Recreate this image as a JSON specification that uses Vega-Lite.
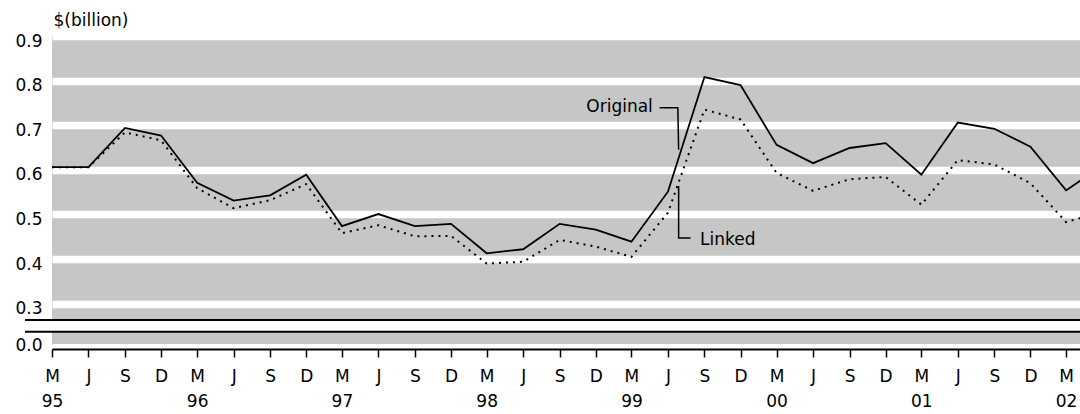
{
  "$schema": "https://vega.github.io/schema/vega-lite/v6.json",
  "width": 1028,
  "height": 308,
  "autosize": {"type": "none"},
  "padding": {"left": 52, "top": 36, "right": 0, "bottom": 70},
  "background": "white",
  "view": {"fill": "#c6c6c6", "stroke": null},
  "config": {
    "font": "DejaVu Sans",
    "axis": {"labelFont": "DejaVu Sans", "titleFont": "DejaVu Sans", "labelColor": "black", "titleColor": "black"}
  },
  "datasets": {
    "series": [
      {"date": "1995-03-01", "series": "Original", "v": 0.606},
      {"date": "1995-06-01", "series": "Original", "v": 0.606},
      {"date": "1995-09-01", "series": "Original", "v": 0.694},
      {"date": "1995-12-01", "series": "Original", "v": 0.677},
      {"date": "1996-03-01", "series": "Original", "v": 0.571},
      {"date": "1996-06-01", "series": "Original", "v": 0.531},
      {"date": "1996-09-01", "series": "Original", "v": 0.543},
      {"date": "1996-12-01", "series": "Original", "v": 0.589},
      {"date": "1997-03-01", "series": "Original", "v": 0.474},
      {"date": "1997-06-01", "series": "Original", "v": 0.501},
      {"date": "1997-09-01", "series": "Original", "v": 0.474},
      {"date": "1997-12-01", "series": "Original", "v": 0.479},
      {"date": "1998-03-01", "series": "Original", "v": 0.413},
      {"date": "1998-06-01", "series": "Original", "v": 0.422},
      {"date": "1998-09-01", "series": "Original", "v": 0.479},
      {"date": "1998-12-01", "series": "Original", "v": 0.466},
      {"date": "1999-03-01", "series": "Original", "v": 0.439},
      {"date": "1999-06-01", "series": "Original", "v": 0.551},
      {"date": "1999-09-01", "series": "Original", "v": 0.808},
      {"date": "1999-12-01", "series": "Original", "v": 0.790},
      {"date": "2000-03-01", "series": "Original", "v": 0.656},
      {"date": "2000-06-01", "series": "Original", "v": 0.615},
      {"date": "2000-09-01", "series": "Original", "v": 0.649},
      {"date": "2000-12-01", "series": "Original", "v": 0.660},
      {"date": "2001-03-01", "series": "Original", "v": 0.589},
      {"date": "2001-06-01", "series": "Original", "v": 0.706},
      {"date": "2001-09-01", "series": "Original", "v": 0.692},
      {"date": "2001-12-01", "series": "Original", "v": 0.652},
      {"date": "2002-03-01", "series": "Original", "v": 0.554},
      {"date": "2002-06-01", "series": "Original", "v": 0.610},
      {"date": "1995-03-01", "series": "Linked", "v": 0.606},
      {"date": "1995-06-01", "series": "Linked", "v": 0.606},
      {"date": "1995-09-01", "series": "Linked", "v": 0.684},
      {"date": "1995-12-01", "series": "Linked", "v": 0.666},
      {"date": "1996-03-01", "series": "Linked", "v": 0.559},
      {"date": "1996-06-01", "series": "Linked", "v": 0.514},
      {"date": "1996-09-01", "series": "Linked", "v": 0.532},
      {"date": "1996-12-01", "series": "Linked", "v": 0.568},
      {"date": "1997-03-01", "series": "Linked", "v": 0.458},
      {"date": "1997-06-01", "series": "Linked", "v": 0.476},
      {"date": "1997-09-01", "series": "Linked", "v": 0.451},
      {"date": "1997-12-01", "series": "Linked", "v": 0.452},
      {"date": "1998-03-01", "series": "Linked", "v": 0.390},
      {"date": "1998-06-01", "series": "Linked", "v": 0.394},
      {"date": "1998-09-01", "series": "Linked", "v": 0.443},
      {"date": "1998-12-01", "series": "Linked", "v": 0.428},
      {"date": "1999-03-01", "series": "Linked", "v": 0.405},
      {"date": "1999-06-01", "series": "Linked", "v": 0.504},
      {"date": "1999-09-01", "series": "Linked", "v": 0.735},
      {"date": "1999-12-01", "series": "Linked", "v": 0.713},
      {"date": "2000-03-01", "series": "Linked", "v": 0.593},
      {"date": "2000-06-01", "series": "Linked", "v": 0.553},
      {"date": "2000-09-01", "series": "Linked", "v": 0.579},
      {"date": "2000-12-01", "series": "Linked", "v": 0.584},
      {"date": "2001-03-01", "series": "Linked", "v": 0.522},
      {"date": "2001-06-01", "series": "Linked", "v": 0.622},
      {"date": "2001-09-01", "series": "Linked", "v": 0.612},
      {"date": "2001-12-01", "series": "Linked", "v": 0.570},
      {"date": "2002-03-01", "series": "Linked", "v": 0.483},
      {"date": "2002-06-01", "series": "Linked", "v": 0.506}
    ]
  },
  "layer": [
    {
      "data": {"name": "series"},
      "transform": [{"filter": "datum.series === 'Original'"}],
      "mark": {"type": "line", "color": "black", "strokeWidth": 1.8},
      "encoding": {
        "x": {
          "field": "date",
          "type": "temporal",
          "scale": {
            "type": "utc",
            "domain": [
              {"year": 1995, "month": 3, "date": 1, "utc": true},
              {"year": 2002, "month": 4, "date": 5, "utc": true}
            ]
          },
          "axis": {
            "orient": "bottom",
            "offset": 5,
            "title": null,
            "grid": false,
            "tickCount": 60,
            "values": [
              {"year": 1995, "month": 3, "date": 1, "utc": true},
              {"year": 1995, "month": 6, "date": 1, "utc": true},
              {"year": 1995, "month": 9, "date": 1, "utc": true},
              {"year": 1995, "month": 12, "date": 1, "utc": true},
              {"year": 1996, "month": 3, "date": 1, "utc": true},
              {"year": 1996, "month": 6, "date": 1, "utc": true},
              {"year": 1996, "month": 9, "date": 1, "utc": true},
              {"year": 1996, "month": 12, "date": 1, "utc": true},
              {"year": 1997, "month": 3, "date": 1, "utc": true},
              {"year": 1997, "month": 6, "date": 1, "utc": true},
              {"year": 1997, "month": 9, "date": 1, "utc": true},
              {"year": 1997, "month": 12, "date": 1, "utc": true},
              {"year": 1998, "month": 3, "date": 1, "utc": true},
              {"year": 1998, "month": 6, "date": 1, "utc": true},
              {"year": 1998, "month": 9, "date": 1, "utc": true},
              {"year": 1998, "month": 12, "date": 1, "utc": true},
              {"year": 1999, "month": 3, "date": 1, "utc": true},
              {"year": 1999, "month": 6, "date": 1, "utc": true},
              {"year": 1999, "month": 9, "date": 1, "utc": true},
              {"year": 1999, "month": 12, "date": 1, "utc": true},
              {"year": 2000, "month": 3, "date": 1, "utc": true},
              {"year": 2000, "month": 6, "date": 1, "utc": true},
              {"year": 2000, "month": 9, "date": 1, "utc": true},
              {"year": 2000, "month": 12, "date": 1, "utc": true},
              {"year": 2001, "month": 3, "date": 1, "utc": true},
              {"year": 2001, "month": 6, "date": 1, "utc": true},
              {"year": 2001, "month": 9, "date": 1, "utc": true},
              {"year": 2001, "month": 12, "date": 1, "utc": true},
              {"year": 2002, "month": 3, "date": 1, "utc": true}
            ],
            "labelExpr": "[slice(utcFormat(datum.value, '%b'), 0, 1), utcFormat(datum.value, '%m') === '03' ? utcFormat(datum.value, '%y') : '']",
            "labelFontSize": 17,
            "labelPadding": 11,
            "labelLineHeight": 25,
            "labelAlign": "center",
            "labelBaseline": "top",
            "labelOverlap": false,
            "labelBound": false,
            "labelFlush": false,
            "domainColor": "black",
            "domainWidth": 2,
            "tickColor": "black",
            "tickWidth": 1.5,
            "tickSize": 8
          }
        },
        "y": {
          "field": "v",
          "type": "quantitative",
          "scale": {"domain": [0, 0.3, 0.9], "range": [304, 267.7, 0], "nice": false, "zero": false},
          "axis": {
            "values": [0, 0.3, 0.4, 0.5, 0.6, 0.7, 0.8, 0.9],
            "tickCount": 20,
            "format": ".1f",
            "labelFontSize": 17,
            "labelPadding": 10,
            "ticks": false,
            "tickSize": 0,
            "domain": false,
            "labelOffset": 5,
            "labelBaseline": "middle",
            "grid": true,
            "gridColor": {"condition": {"test": "datum.value === 0", "value": "transparent"}, "value": "white"},
            "gridWidth": 7.5,
            "gridOpacity": 1,
            "title": "$(billion)",
            "titleAngle": 0,
            "titleAlign": "left",
            "titleBaseline": "middle",
            "titleX": 1,
            "titleY": -16,
            "titleFontSize": 17,
            "titleFontWeight": "normal"
          }
        }
      }
    },
    {
      "data": {"name": "series"},
      "transform": [{"filter": "datum.series === 'Linked'"}],
      "mark": {"type": "line", "color": "black", "strokeWidth": 2, "strokeDash": [2, 5], "strokeCap": "butt"},
      "encoding": {
        "x": {"field": "date", "type": "temporal"},
        "y": {"field": "v", "type": "quantitative"}
      }
    },
    {
      "data": {"values": [{"v": 0.069, "v2": 0.165}]},
      "mark": {"type": "rect", "color": "white"},
      "encoding": {
        "y": {"field": "v", "type": "quantitative"},
        "y2": {"field": "v2"}
      }
    },
    {
      "data": {"values": [{"v": 0.165}, {"v": 0.069}]},
      "mark": {"type": "rule", "color": "black", "strokeWidth": 2, "clip": false},
      "encoding": {
        "x": {"datum": {"year": 1994, "month": 12, "date": 23, "utc": true}, "type": "temporal"},
        "x2": {"datum": {"year": 2002, "month": 6, "date": 30, "utc": true}},
        "y": {"field": "v", "type": "quantitative"}
      }
    },
    {
      "data": {
        "values": [
          {"grp": "Original", "k": 1, "date": "1999-05-11", "v": 0.739},
          {"grp": "Original", "k": 2, "date": "1999-06-26", "v": 0.739},
          {"grp": "Original", "k": 3, "date": "1999-06-28", "v": 0.645},
          {"grp": "Linked", "k": 1, "date": "1999-06-28", "v": 0.564},
          {"grp": "Linked", "k": 2, "date": "1999-06-28", "v": 0.447},
          {"grp": "Linked", "k": 3, "date": "1999-07-28", "v": 0.447}
        ]
      },
      "mark": {"type": "line", "color": "black", "strokeWidth": 1.5},
      "encoding": {
        "x": {"field": "date", "type": "temporal"},
        "y": {"field": "v", "type": "quantitative"},
        "detail": {"field": "grp"},
        "order": {"field": "k"}
      }
    },
    {
      "data": {"values": [{"date": "1999-04-24", "v": 0.741, "label": "Original"}]},
      "mark": {"type": "text", "align": "right", "baseline": "middle", "fontSize": 17, "font": "DejaVu Sans", "color": "black"},
      "encoding": {
        "x": {"field": "date", "type": "temporal"},
        "y": {"field": "v", "type": "quantitative"},
        "text": {"field": "label"}
      }
    },
    {
      "data": {"values": [{"date": "1999-08-21", "v": 0.443, "label": "Linked"}]},
      "mark": {"type": "text", "align": "left", "baseline": "middle", "fontSize": 17, "font": "DejaVu Sans", "color": "black"},
      "encoding": {
        "x": {"field": "date", "type": "temporal"},
        "y": {"field": "v", "type": "quantitative"},
        "text": {"field": "label"}
      }
    }
  ]
}
